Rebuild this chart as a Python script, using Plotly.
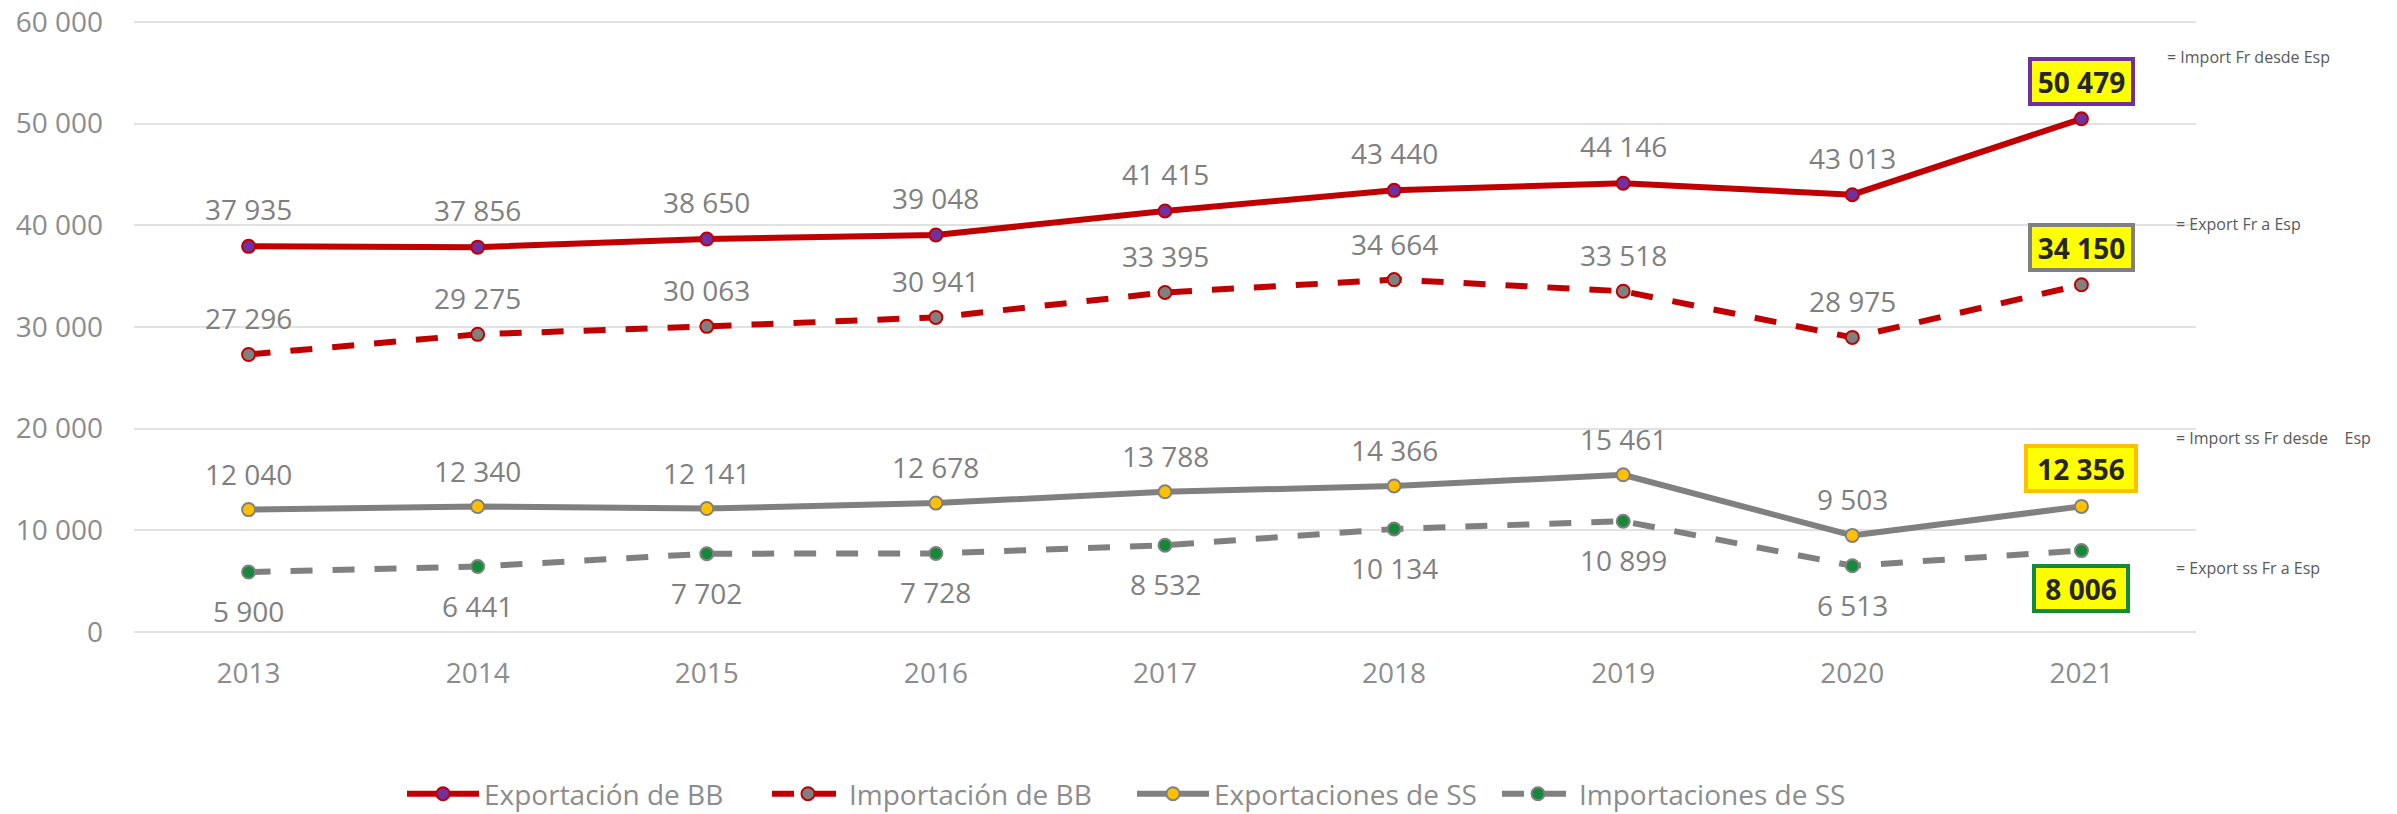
import plotly.graph_objects as go

years = ["2013", "2014", "2015", "2016", "2017", "2018", "2019", "2020", "2021"]
export_bb = [37935, 37856, 38650, 39048, 41415, 43440, 44146, 43013, 50479]
import_bb = [27296, 29275, 30063, 30941, 33395, 34664, 33518, 28975, 34150]
export_ss = [12040, 12340, 12141, 12678, 13788, 14366, 15461, 9503, 12356]
import_ss = [5900, 6441, 7702, 7728, 8532, 10134, 10899, 6513, 8006]
names = ["Exportación de BB", "Importación de BB", "Exportaciones de SS", "Importaciones de SS"]
side_notes = ["= Import Fr desde Esp", "= Export Fr a Esp", "= Import ss Fr desde    Esp", "= Export ss Fr a Esp"]

W, H = 2397, 814
OFF = 0  # body margin removed via post_script
Y0_PX, Y60_PX = 632, 22          # screen rows of the 0 and 60 000 gridlines
PAD = 2                          # extra px so edge gridlines are not clipped
L, R = 134 - OFF, 2196 - OFF
T, B = Y60_PX - OFF - PAD, Y0_PX - OFF + PAD
Y_MAX = 60000
units_per_px = Y_MAX / (Y0_PX - Y60_PX)
y_range = [-PAD * units_per_px, Y_MAX + PAD * units_per_px]

FONT = "Open Sans"
LABEL_C = "#7f7f7f"
TICK_C = "#8c8c8c"

series = [
    dict(y=export_bb, name=names[0], color="#C00000", dash="solid", mfill="#7030A0", mline="#C00000", shift=37, box="#7030A0", bw=93),
    dict(y=import_bb, name=names[1], color="#C00000", dash="22px,20px", mfill="#808080", mline="#C00000", shift=36, box="#808080", bw=93),
    dict(y=export_ss, name=names[2], color="#808080", dash="solid", mfill="#FFC000", mline="#808080", shift=36, box="#FFC000", bw=100),
    dict(y=import_ss, name=names[3], color="#808080", dash="22px,20px", mfill="#15893A", mline="#808080", shift=-39, box="#15893A", bw=84),
]

fig = go.Figure()
annotations = []
for s in series:
    fig.add_trace(go.Scatter(
        x=years, y=s["y"], name=s["name"], mode="lines+markers",
        line=dict(color=s["color"], width=6, dash=s["dash"]),
        marker=dict(size=13, color=s["mfill"], line=dict(color=s["mline"], width=2)),
        hoverinfo="skip",
    ))
    n = len(years)
    for i, yv in enumerate(s["y"]):
        txt = f"{yv:,}".replace(",", " ")
        if i < n - 1:
            annotations.append(dict(
                x=i, y=yv, xref="x", yref="y", text=txt, showarrow=False,
                yshift=s["shift"], font=dict(family=FONT, size=28, color=LABEL_C),
                xanchor="center", yanchor="middle",
            ))
        else:
            annotations.append(dict(
                x=i, y=yv, xref="x", yref="y", text=f"<b>{txt}</b>", showarrow=False,
                yshift=(37.5 if s["shift"] > 0 else -37.5),
                font=dict(family=FONT, size=28, color="#262626"),
                bgcolor="#FFFF00", bordercolor=s["box"], borderwidth=4, borderpad=3,
                width=s["bw"], height=35, align="center",
                xanchor="center", yanchor="middle",
            ))

def px_x(px):
    return (px - OFF - L) / (R - L)

def px_y(py):
    return (B - (py - OFF)) / (B - T)

note_pos = [(2165, 57), (2174, 224), (2174, 438), (2174, 568)]
for txt, (nx, ny) in zip(side_notes, note_pos):
    annotations.append(dict(
        x=px_x(nx), y=px_y(ny), xref="paper", yref="paper", text=txt, showarrow=False,
        xanchor="left", yanchor="middle", font=dict(family=FONT, size=16, color="#595959"),
    ))

fig.update_layout(
    width=W, height=H,
    margin=dict(l=L, r=W - R, t=T, b=H - B, autoexpand=False),
    paper_bgcolor="white", plot_bgcolor="white",
    separators=", ",
    showlegend=True,
    legend=dict(
        orientation="h", x=px_x(1132), y=px_y(794), xanchor="center", yanchor="middle",
        font=dict(family=FONT, size=28, color=TICK_C), itemwidth=72,
        entrywidth=278, entrywidthmode="pixels",
        bgcolor="rgba(0,0,0,0)",
    ),
    xaxis=dict(
        type="category", range=[-0.5, 8.5], showgrid=False, zeroline=False, showline=False,
        ticks="", tickfont=dict(family=FONT, size=28, color=TICK_C), ticklabelstandoff=20,
        ticklabeloverflow="allow",
    ),
    yaxis=dict(
        range=y_range, tickmode="linear", tick0=0, dtick=10000, tickformat=",",
        showgrid=True, gridcolor="#e2e2e2", gridwidth=1.5,
        zeroline=False, showline=False, ticks="",
        tickfont=dict(family=FONT, size=28, color=TICK_C), ticklabelstandoff=30,
        ticklabeloverflow="allow",
    ),
    annotations=annotations,
)

fig.write_html("out.html", config={"displayModeBar": False},
               post_script="document.body.style.margin='0px';")
